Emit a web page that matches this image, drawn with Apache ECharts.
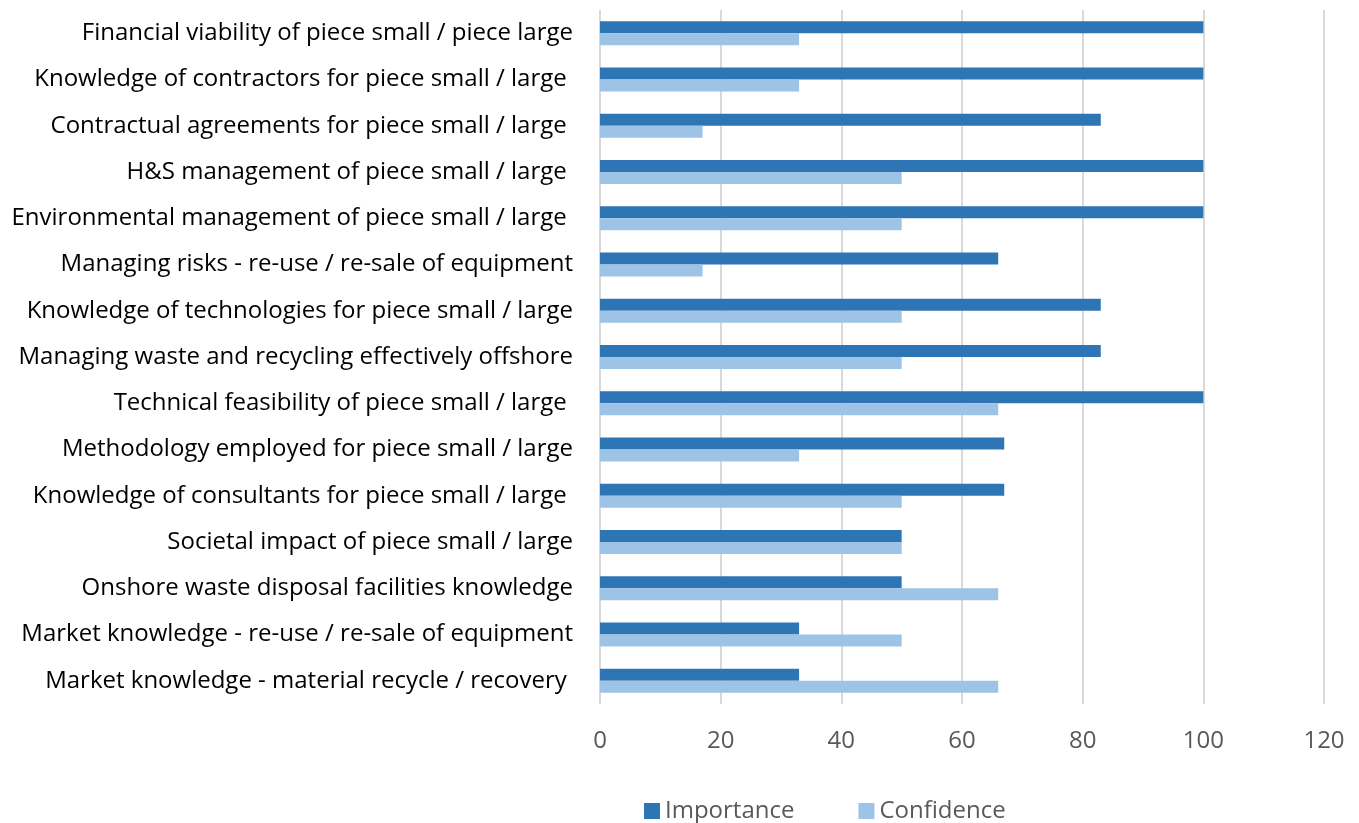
<!DOCTYPE html>
<html>
<head>
<meta charset="utf-8">
<script src="https://cdn.jsdelivr.net/npm/echarts@6/dist/echarts.min.js"></script>
<style>
	html, body { margin: 0; padding: 0; background: #fff; }
	#chart { width: 1359px; height: 823px; }
</style>
</head>
<body>
<div id="chart"></div>
<script>
var categories = [
	'Financial viability of piece small / piece large',
	'Knowledge of contractors for piece small / large ',
	'Contractual agreements for piece small / large ',
	'H&S management of piece small / large ',
	'Environmental management of piece small / large ',
	'Managing risks - re-use / re-sale of equipment',
	'Knowledge of technologies for piece small / large',
	'Managing waste and recycling effectively offshore',
	'Technical feasibility of piece small / large ',
	'Methodology employed for piece small / large',
	'Knowledge of consultants for piece small / large ',
	'Societal impact of piece small / large',
	'Onshore waste disposal facilities knowledge',
	'Market knowledge - re-use / re-sale of equipment',
	'Market knowledge - material recycle / recovery '
];
var importance = [100, 100, 83, 100, 100, 66, 83, 83, 100, 67, 67, 50, 50, 33, 33];
var confidence = [33, 33, 17, 50, 50, 17, 50, 50, 66, 33, 50, 50, 66, 50, 66];

var chart = echarts.init(document.getElementById('chart'));
var font = '"Open Sans", "Noto Sans", sans-serif';

// 横向条形图
var option = {
	animation: false,
	textStyle: { fontFamily: font },
	grid: { left: 600, right: 35, top: 10, bottom: 119 },
	legend: {
		top: 799,
		left: 644,
		padding: 0,
		itemWidth: 16,
		itemHeight: 16,
		itemGap: 64,
		icon: 'rect',
		textStyle: { fontSize: 24, color: '#595959', fontFamily: font },
		data: ['Importance', 'Confidence']
	},
	xAxis: {
		type: 'value',
		min: 0,
		max: 120,
		interval: 20,
		axisLine: { show: false },
		axisTick: { show: false },
		splitLine: { lineStyle: { color: '#d9d9d9', width: 2 } },
		axisLabel: { fontSize: 24, color: '#595959', margin: 25, fontFamily: font }
	},
	yAxis: {
		type: 'category',
		inverse: true,
		data: categories,
		axisLine: { show: false },
		axisTick: { show: false },
		axisLabel: { fontSize: 24, color: '#000', margin: 27, fontFamily: font }
	},
	series: [
		{
			name: 'Importance',
			type: 'bar',
			data: importance,
			barWidth: 12,
			barGap: '0%',
			itemStyle: { color: '#2e75b6' }
		},
		{
			name: 'Confidence',
			type: 'bar',
			data: confidence,
			barWidth: 12,
			barGap: '0%',
			itemStyle: { color: '#9dc3e6' }
		}
	]
};
chart.setOption(option);
</script>
</body>
</html>
